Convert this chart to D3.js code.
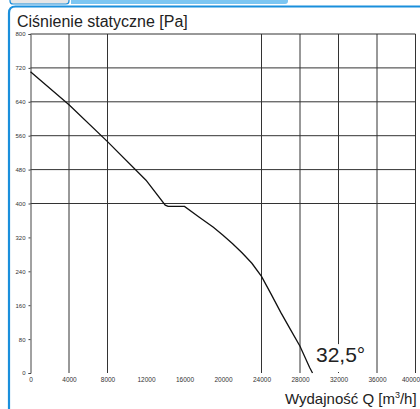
<!DOCTYPE html>
<html>
<head>
<meta charset="utf-8">
<script src="https://cdn.jsdelivr.net/npm/d3@7"></script>
<style>
  html, body { margin: 0; padding: 0; background: #fff; }
  svg { display: block; font-family: "Liberation Sans", Arial, sans-serif; }
</style>
</head>
<body>
<div id="chart"></div>
<script>
var width = 420;
var height = 409;

// flow [m3/h] vs static pressure [Pa]
var flow = [0, 4000, 8000, 12000, 14000, 14300, 16000, 17500, 19000, 20000, 21000,
            22000, 23000, 24000, 25000, 26000, 27000, 28000, 29000, 29300];
var pressure = [711, 633, 546, 455, 396, 393, 393, 368, 344, 325, 305,
                283, 259, 228, 186, 143, 103, 63, 13, 0];

var xTicks = [0, 4000, 8000, 12000, 16000, 20000, 24000, 28000, 32000, 36000, 40000];
var yTicks = [0, 80, 160, 240, 320, 400, 480, 560, 640, 720, 800];
var xGrid = [4000, 8000, 24000, 28000, 32000, 36000, 40000];
var yGrid = [400, 480, 560, 640, 720, 800];

var svg = d3.select("#chart")
            .append("svg")
            .attr("width", width)
            .attr("height", height);

// tab strip + card frame
svg.append("path")
   .attr("d", "M10,-2 L10,1 Q10,4 13,4 L66,4 Q69,4 69,1 L69,-2 Z")
   .attr("fill", "#e6e6e6")
   .attr("stroke", "#1a8fdc")
   .attr("stroke-width", 1.2);
svg.append("path")
   .attr("d", "M71,-2 L71,4 L285,4 Q288,4 288,1 L288,-2 Z")
   .attr("fill", "#7cc6f2");
svg.append("path")
   .attr("d", "M9,409 L9,13 Q9,6.5 15.5,6.5 L422,6.5")
   .attr("fill", "none")
   .attr("stroke", "#1a8fdc")
   .attr("stroke-width", 2.2);

var margin = {left: 30.5, right: 415.5, top: 34, bottom: 373};

var x = d3.scaleLinear().domain([0, 40000]).range([margin.left, margin.right]);
var y = d3.scaleLinear().domain([0, 800]).range([margin.bottom, margin.top]);

// grid
svg.append("g")
   .selectAll("line")
   .data(xGrid)
   .enter()
   .append("line")
   .attr("x1", function(d) { return x(d); })
   .attr("x2", function(d) { return x(d); })
   .attr("y1", y(800))
   .attr("y2", y(0))
   .attr("stroke", "#333")
   .attr("stroke-width", 1);

svg.append("g")
   .selectAll("line")
   .data(yGrid)
   .enter()
   .append("line")
   .attr("x1", x(0))
   .attr("x2", x(40000))
   .attr("y1", function(d) { return y(d); })
   .attr("y2", function(d) { return y(d); })
   .attr("stroke", "#333")
   .attr("stroke-width", 1);

// axes
var yAxis = d3.axisLeft(y).tickValues(yTicks).tickSize(2).tickPadding(3);
var gy = svg.append("g")
            .attr("transform", "translate(" + x(0) + ",0)")
            .call(yAxis);
gy.select(".domain").attr("stroke", "#444");
gy.selectAll(".tick line").attr("stroke", "#444");
gy.selectAll("text")
  .attr("font-size", "6px")
  .attr("fill", "#333")
  .attr("font-family", "Liberation Sans, Arial, sans-serif");

var xAxis = d3.axisBottom(x).tickValues(xTicks).tickSize(0).tickPadding(4)
              .tickFormat(d3.format("d"));
var gx = svg.append("g")
            .attr("transform", "translate(0," + y(0) + ")")
            .call(xAxis);
gx.select(".domain").remove();
gx.selectAll("text")
  .attr("font-size", "6.5px")
  .attr("fill", "#333")
  .attr("font-family", "Liberation Sans, Arial, sans-serif");
// last label sits against the right edge
gx.selectAll(".tick:last-of-type text").attr("text-anchor", "end").attr("dx", 4);

// curve
var line = d3.line()
             .x(function(d, i) { return x(flow[i]); })
             .y(function(d) { return y(d); });

svg.append("path")
   .datum(pressure)
   .attr("d", line)
   .attr("fill", "none")
   .attr("stroke", "#111")
   .attr("stroke-width", 1.3);

// angle label on a white patch
svg.append("rect")
   .attr("x", x(29600))
   .attr("y", y(80) + 5)
   .attr("width", 58)
   .attr("height", y(0) - y(80) - 6)
   .attr("fill", "#fff");
svg.append("text")
   .attr("x", 316)
   .attr("y", 362)
   .attr("font-size", "21px")
   .attr("fill", "#222")
   .text("32,5°");

// titles
svg.append("text")
   .attr("x", 17)
   .attr("y", 27)
   .attr("font-size", "16px")
   .attr("fill", "#222")
   .text("Ciśnienie statyczne [Pa]");

var xt = svg.append("text")
            .attr("x", 285)
            .attr("y", 404)
            .attr("font-size", "15px")
            .attr("fill", "#222");
xt.append("tspan").text("Wydajność Q [m");
xt.append("tspan").attr("font-size", "9px").attr("dy", -6).text("3");
xt.append("tspan").attr("dy", 6).text("/h]");
</script>
</body>
</html>
